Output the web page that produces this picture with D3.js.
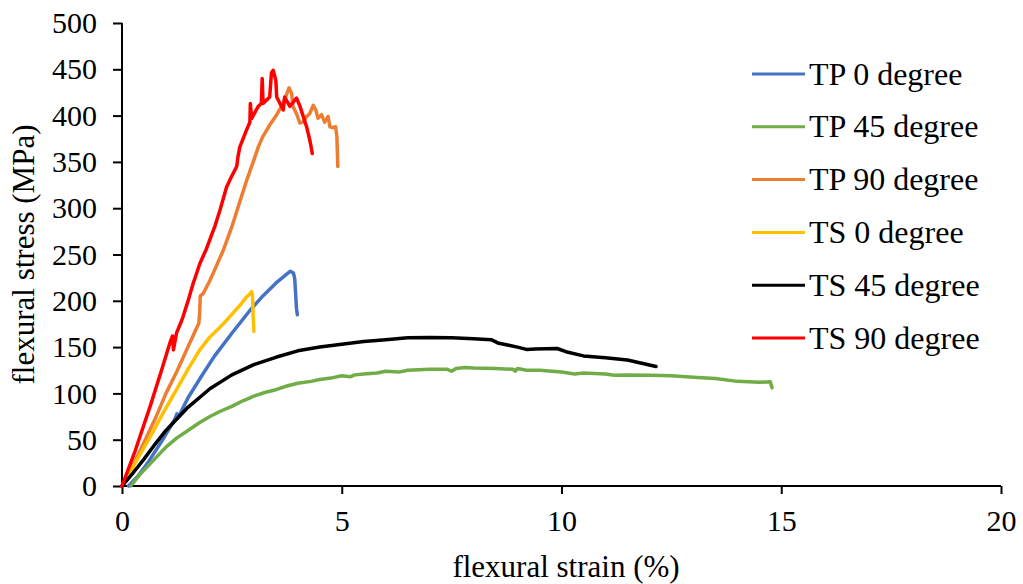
<!DOCTYPE html>
<html>
<head>
<meta charset="utf-8">
<script src="https://cdn.jsdelivr.net/npm/d3@7"></script>
<style>
  body { margin: 0; background: #fff; }
  svg { display: block; font-family: "Liberation Serif", "Times New Roman", serif; }
</style>
</head>
<body>
<svg id="chart" width="1023" height="584"></svg>
<script>
// Flexural stress–strain curves, strain (%) vs stress (MPa)
const xTicks = [0, 5, 10, 15, 20];
const yTicks = [0, 50, 100, 150, 200, 250, 300, 350, 400, 450, 500];

const seriesNames = ["TP 0 degree", "TP 45 degree", "TP 90 degree", "TS 0 degree", "TS 45 degree", "TS 90 degree"];
const seriesColors = ["#4472C4", "#70AD47", "#ED7D31", "#FFC000", "#000000", "#FF0000"];

const tp0 = [[0.15,0],[0.35,10],[0.6,26],[0.9,48],[1.2,72],[1.25,78],[1.3,76],[1.5,95],[1.8,118],[2.1,140],[2.5,165],[2.9,189],[3.2,205],[3.5,219],[3.7,227],[3.83,232],[3.9,230],[3.93,224],[3.95,208],[3.97,192],[3.99,185]];

const tp45 = [[0.2,0],[0.4,12],[0.6,22],[0.8,32],[1.0,42],[1.25,52],[1.5,60],[1.75,68],[2.0,75],[2.25,81],[2.5,86],[2.75,92],[2.9,95],[3.0,97],[3.25,101],[3.5,104],[3.75,108],[4.0,111],[4.3,113],[4.5,115],[4.8,117],[5.0,119],[5.2,118],[5.3,120],[5.5,121],[5.8,122],[6.0,124],[6.3,123],[6.5,125],[7.0,126],[7.4,126],[7.5,124],[7.6,127],[7.8,128],[8.0,127.5],[8.5,127],[8.9,126],[8.95,124],[9.0,127],[9.2,125],[9.5,125],[10.0,123],[10.3,121],[10.5,122],[11.0,121],[11.2,119.5],[11.5,120],[12.0,119.5],[12.5,119],[13.0,117.5],[13.5,116],[14.0,113],[14.5,112],[14.75,112.5],[14.79,106]];

const tp90 = [[0,0],[0.25,22],[0.5,47],[0.75,72],[1.0,100],[1.25,124],[1.5,150],[1.75,176],[1.77,190],[1.78,205],[1.85,208],[2.0,222],[2.15,238],[2.3,254],[2.5,280],[2.7,310],[2.85,332],[3.0,352],[3.1,366],[3.2,377],[3.35,389],[3.52,401],[3.63,410],[3.70,417],[3.80,430],[3.86,424],[3.89,410],[3.97,402],[4.05,392],[4.12,393],[4.20,399],[4.27,402],[4.35,411],[4.41,406],[4.46,397],[4.54,401],[4.61,393],[4.69,399],[4.73,388],[4.80,387],[4.86,388],[4.89,377],[4.91,345]];

const ts0 = [[0,0],[0.3,25],[0.64,53],[0.95,80],[1.24,104],[1.5,126],[1.77,147],[2.0,161],[2.2,170],[2.38,179],[2.55,188],[2.7,196],[2.83,204],[2.9,207],[2.95,210],[2.97,205],[2.98,188],[3.0,167]];

const ts45 = [[0,0],[0.25,14],[0.5,29],[0.75,45],[1.0,60],[1.5,85],[2.0,105],[2.5,120],[3.0,131],[3.5,139],[4.0,146],[4.5,150],[5.0,153],[5.5,156],[6.0,158],[6.5,160],[7.0,160.5],[7.5,160],[8.0,159],[8.4,158],[8.55,154.5],[8.8,152],[9.0,150],[9.2,147.5],[9.4,148],[9.9,148.5],[10.1,145],[10.5,140.5],[11.0,138.5],[11.5,136],[12.15,129]];

const ts90 = [[0,0],[0.3,38],[0.64,86],[0.9,125],[1.1,156],[1.15,162],[1.17,147],[1.24,165],[1.36,179],[1.39,183],[1.51,201],[1.62,219],[1.70,230],[1.77,240],[1.92,256],[2.11,280],[2.23,298],[2.38,323],[2.49,334],[2.61,345],[2.64,356],[2.68,366],[2.83,384],[2.91,393],[2.92,413],[2.95,397],[3.10,410],[3.17,413],[3.19,440],[3.21,413],[3.36,420],[3.40,446],[3.44,449],[3.50,438],[3.52,420],[3.67,406],[3.70,420],[3.82,410],[3.97,419],[4.05,410],[4.20,388],[4.28,372],[4.33,359]];

const seriesData = [tp0, tp45, tp90, ts0, ts45, ts90];

const svg = d3.select("#chart");
const margin = { left: 122, right: 22, top: 23, bottom: 98 };
const W = 1023, H = 584;

const x = d3.scaleLinear().domain([0, 20]).range([margin.left, W - margin.right]);
const y = d3.scaleLinear().domain([0, 500]).range([H - margin.bottom, margin.top]);

// axes
const xAxis = d3.axisBottom(x).tickValues(xTicks).tickSize(8).tickPadding(16);
const yAxis = d3.axisLeft(y).tickValues(yTicks).tickSize(9).tickPadding(16);

const gx = svg.append("g").attr("transform", `translate(0,${y(0)})`).call(xAxis);
const gy = svg.append("g").attr("transform", `translate(${x(0)},0)`).call(yAxis);
[gx, gy].forEach(g => {
  g.selectAll("path, line").attr("stroke", "#000").attr("stroke-width", 2);
  g.selectAll("text").attr("font-family", "Liberation Serif, Times New Roman, serif")
    .attr("font-size", 30).attr("fill", "#000");
});
gx.select(".domain").attr("d", `M${x(0)},0H${x(20)}`);
gy.select(".domain").attr("d", `M0,${y(500)}V${y(0)}`);

// curves
const line = d3.line().x(d => x(d[0])).y(d => y(d[1]));
svg.append("g").selectAll("path").data(seriesData).join("path")
  .attr("d", line)
  .attr("fill", "none")
  .attr("stroke", (d, i) => seriesColors[i])
  .attr("stroke-width", 3.5)
  .attr("stroke-linejoin", "round")
  .attr("stroke-linecap", "round");

// axis titles
svg.append("text").attr("x", 566).attr("y", 577)
  .attr("text-anchor", "middle").attr("font-size", 31).text("flexural strain (%)");
svg.append("text").attr("transform", `translate(34,${(y(0) + y(500)) / 2}) rotate(-90)`)
  .attr("text-anchor", "middle").attr("font-size", 31).text("flexural stress (MPa)");

// legend
const legend = svg.append("g").attr("transform", "translate(752,74)");
const rows = legend.selectAll("g").data(seriesNames).join("g")
  .attr("transform", (d, i) => `translate(0,${i * 52.8})`);
rows.append("line").attr("x1", 0).attr("x2", 53).attr("y1", 0).attr("y2", 0)
  .attr("stroke", (d, i) => seriesColors[i]).attr("stroke-width", 3);
rows.append("text").attr("x", 57).attr("y", 0).attr("dy", "0.33em")
  .attr("font-size", 32).text(d => d);
</script>
</body>
</html>
